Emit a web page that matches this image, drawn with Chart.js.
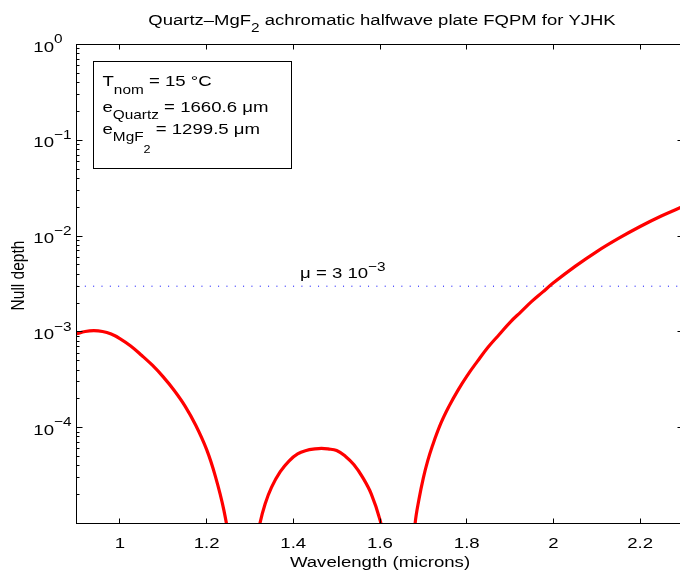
<!DOCTYPE html>
<html>
<head>
<meta charset="utf-8">
<script src="https://cdn.jsdelivr.net/npm/chart.js@4"></script>
<style>
  html, body { margin: 0; padding: 0; overflow: hidden; background: #fff; }
  #wrap { width: 700px; height: 572px; }
</style>
</head>
<body>
<div id="wrap"><canvas id="c" width="700" height="572"></canvas></div>
<script>
// null depth; null = dips below the axis floor (line break)
const wavelength = [
  0.90, 0.92, 0.94, 0.96, 0.98, 1.00, 1.025, 1.05, 1.075, 1.10, 1.125, 1.15, 1.175, 1.20, 1.22, 1.24, 1.255, 1.27,
  1.28,
  1.30, 1.31, 1.323, 1.335, 1.35, 1.37, 1.39, 1.41, 1.43, 1.45, 1.465, 1.48, 1.50, 1.52, 1.54, 1.56, 1.58, 1.60, 1.615, 1.63,
  1.65,
  1.665, 1.681, 1.69, 1.70, 1.71, 1.72, 1.74, 1.76, 1.78, 1.80, 1.825, 1.85, 1.875, 1.90, 1.925, 1.95, 1.975, 2.00,
  2.05, 2.10, 2.15, 2.20, 2.25, 2.30];
const nullDepth = [
  9.55e-4, 1.01e-3, 1.03e-3, 1.01e-3, 9.49e-4, 8.53e-4, 7.13e-4, 5.71e-4, 4.49e-4, 3.39e-4, 2.46e-4, 1.69e-4, 1.06e-4, 5.93e-5, 3.14e-5, 1.37e-5, 5.3e-6, 8.1e-7,
  null,
  2.25e-6, 4.84e-6, 1.0e-5, 1.6e-5, 2.4e-5, 3.48e-5, 4.49e-5, 5.33e-5, 5.78e-5, 6.0e-5, 6.08e-5, 6.0e-5, 5.78e-5, 5.04e-5, 4.1e-5, 3.03e-5, 2.03e-5, 1.09e-5, 5.3e-6, 1.7e-6,
  null,
  1.4e-6, 1.0e-5, 1.8e-5, 3.0e-5, 4.5e-5, 6.3e-5, 1.1e-4, 1.7e-4, 2.47e-4, 3.44e-4, 4.95e-4, 6.99e-4, 9.4e-4, 1.26e-3, 1.62e-3, 2.08e-3, 2.6e-3, 3.25e-3,
  4.83e-3, 6.9e-3, 9.46e-3, 1.26e-2, 1.63e-2, 2.05e-2];
const muLevel = 3e-3;

const xTicks = [1, 1.2, 1.4, 1.6, 1.8, 2, 2.2];
const xTickLabels = ['1', '1.2', '1.4', '1.6', '1.8', '2', '2.2'];
const yTicks = [1, 1e-1, 1e-2, 1e-3, 1e-4];
const yTickExp = ['0', '\u22121', '\u22122', '\u22123', '\u22124'];

const FONT = '"Liberation Sans", Arial, sans-serif';
const SX = 1.2;   // glyphs in the source are stretched sideways
const FS = 15.5, SUB = 12.8;

function runs(ctx, parts, x, y, align) {
  ctx.save();
  let w = 0;
  parts.forEach(p => { ctx.font = p[1] + 'px ' + FONT; w += ctx.measureText(p[0]).width; });
  ctx.translate(x, y);
  ctx.scale(SX, 1);
  let cx = align === 'center' ? -w / 2 : align === 'right' ? -w : 0;
  parts.forEach(p => {
    ctx.font = p[1] + 'px ' + FONT;
    ctx.fillText(p[0], cx, p[2] || 0);
    cx += ctx.measureText(p[0]).width;
  });
  ctx.restore();
}

const crisp = v => Math.round(v - 0.5) + 0.5;

const matlabAxes = {
  id: 'matlabAxes',
  afterDraw(chart) {
    const { ctx, chartArea: a, scales: { x, y } } = chart;
    ctx.save();
    ctx.strokeStyle = '#000';
    ctx.fillStyle = '#000';
    ctx.lineWidth = 1;
    ctx.textAlign = 'left';
    ctx.textBaseline = 'alphabetic';

    // axes box
    ctx.strokeRect(a.left, a.top, a.right - a.left, a.bottom - a.top);

    // ticks
    ctx.beginPath();
    xTicks.forEach(v => {
      const px = crisp(x.getPixelForValue(v));
      ctx.moveTo(px, a.bottom); ctx.lineTo(px, a.bottom - 5);
      ctx.moveTo(px, a.top); ctx.lineTo(px, a.top + 5);
    });
    for (let e = -5; e <= 0; e++) {
      for (let k = 1; k <= 9; k++) {
        const v = k * Math.pow(10, e);
        if (v > 1) break;
        const py = crisp(y.getPixelForValue(v));
        const len = k === 1 ? 6 : 3;
        ctx.moveTo(a.left, py); ctx.lineTo(a.left + len, py);
        ctx.moveTo(a.right, py); ctx.lineTo(a.right - len, py);
      }
    }
    ctx.stroke();

    // tick labels
    xTicks.forEach((v, i) => runs(ctx, [[xTickLabels[i], FS]], x.getPixelForValue(v), a.bottom + 24, 'center'));
    yTicks.forEach((v, i) => {
      const py = y.getPixelForValue(v) + 7;
      runs(ctx, [['10', FS]], 54, py, 'right');
      runs(ctx, [[yTickExp[i], SUB]], 54, py - 8.3, 'left');
    });

    // title and axis labels
    runs(ctx, [['Quartz\u2013MgF', 15.4], ['2', SUB, 6.5], [' achromatic halfwave plate FQPM for YJHK', 15.4]], 382, 25, 'center');
    runs(ctx, [['Wavelength (microns)', FS]], 380, 566.5, 'center');
    ctx.save();
    ctx.translate(24, 275.5);
    ctx.scale(SX, 1);
    ctx.rotate(-Math.PI / 2);
    ctx.font = FS + 'px ' + FONT;
    ctx.textAlign = 'center';
    ctx.fillText('Null depth', 0, 0);
    ctx.restore();

    // threshold label
    const my = y.getPixelForValue(muLevel) - 8;
    runs(ctx, [['\u03bc = 3 10', FS], ['\u22123', SUB, -7.6]], x.getPixelForValue(1.4155), my, 'left');

    // parameter box
    ctx.fillStyle = '#fff';
    ctx.fillRect(93.5, 61.5, 198, 107);
    ctx.strokeRect(93.5, 61.5, 198, 107);
    ctx.fillStyle = '#000';
    runs(ctx, [['T', FS], ['nom', SUB, 7.4], [' = 15 \u00b0C', FS]], 102.5, 86.3, 'left');
    runs(ctx, [['e', FS], ['Quartz', SUB, 7.7], [' = 1660.6 \u03bcm', FS]], 102.5, 111.5, 'left');
    runs(ctx, [['e', FS], ['MgF', SUB, 7.3], ['2', 10.5, 19], [' = 1299.5 \u03bcm', FS]], 102.5, 133.5, 'left');
    ctx.restore();
  }
};

new Chart(document.getElementById('c'), {
  type: 'line',
  data: {
    datasets: [
      {
        data: wavelength.map((w, i) => ({ x: w, y: nullDepth[i] })),
        borderColor: '#ff0000',
        borderWidth: 3.2,
        pointRadius: 0,
        tension: 0.4,
        spanGaps: false,
        clip: 0
      },
      {
        data: [{ x: 0.9, y: muLevel }, { x: 2.3, y: muLevel }],
        borderColor: '#0000ff',
        borderWidth: 1,
        borderDash: [1, 7.33],
        pointRadius: 0,
        clip: 0
      }
    ]
  },
  options: {
    responsive: false,
    animation: false,
    layout: { padding: { left: 76.5, top: 44.5, right: 16.5, bottom: 48.5 } },
    plugins: { legend: { display: false }, tooltip: { enabled: false } },
    scales: {
      x: { type: 'linear', min: 0.9, max: 2.3, display: false },
      y: { type: 'logarithmic', min: 1e-5, max: 1, display: false }
    }
  },
  plugins: [matlabAxes]
});
</script>
</body>
</html>
